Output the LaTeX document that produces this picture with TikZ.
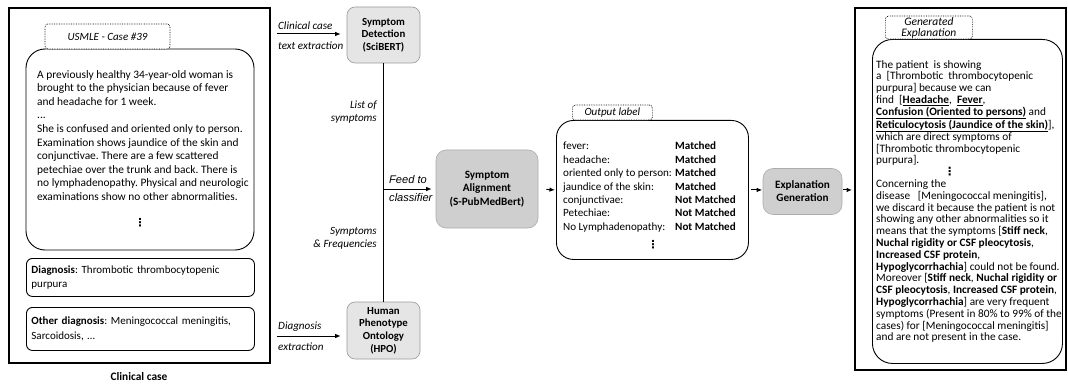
\documentclass[tikz,border=0pt]{standalone}
\usepackage{fontspec}
\setmainfont{Carlito}
\newfontfamily\arialf{Liberation Sans}
\newfontfamily\dejavu{DejaVu Sans}
\usetikzlibrary{arrows.meta}
\newcommand{\vdt}{{\dejavu\bfseries ⋮}}
\begin{document}
\frenchspacing
\begin{tikzpicture}[x=1pt,y=-1pt,
  outer/.style={draw=black,line width=1.8pt,inner sep=0pt},
  rbox/.style={draw=black,line width=0.9pt,rounded corners=#1,inner sep=0pt},
  lab/.style={draw=black,densely dotted,line width=0.7pt,rounded corners=3pt,fill=white,inner sep=0pt,font=\fontsize{11}{12}\selectfont\itshape,align=center},
  proc/.style={draw=gray!80,line width=0.6pt,fill=gray!20,rounded corners=8pt,align=center,inner sep=0pt,font=\fontsize{10.8}{12.6}\selectfont\bfseries},
  proc2/.style={proc,fill=gray!38,draw=gray!65,rounded corners=10pt,font=\fontsize{11.2}{13.4}\selectfont\bfseries},
  arr/.style={-{Latex[length=5.5pt,width=4.5pt]},line width=1pt},
  elab/.style={font=\fontsize{11.1}{12}\selectfont\itshape,inner sep=0pt},
  alab/.style={font=\fontsize{11.1}{12}\selectfont\arialf\itshape,inner sep=0pt},
  body/.style={inner sep=0pt,align=left,anchor=north west}
]
\useasboundingbox (0,0) rectangle (1068,385);

% ---------- left panel ----------
\node[outer,minimum width=261pt,minimum height=355pt] (case) at (139.5,185.5) {};
\node[rbox=19pt,minimum width=228pt,minimum height=201pt] (story) at (140,149.5) {};
\node[lab,minimum width=125pt,minimum height=25pt] (usmle) at (107.5,36.5) {USMLE - Case \#39};
\node[body,font=\fontsize{11.4}{13.6}\selectfont] (storytext) at (37,70) {A previously healthy 34-year-old woman is\\
brought to the physician because of fever\\
and headache for 1 week.\\
...\\
She is confused and oriented only to person.\\
Examination shows jaundice of the skin and\\
conjunctivae. There are a few scattered\\
petechiae over the trunk and back. There is\\
no lymphadenopathy. Physical and neurologic\\
examinations show no other abnormalities.};
\node[font=\fontsize{11}{12}\selectfont] (dots1) at (140,223) {\vdt};
\node[rbox=6pt,minimum width=228pt,minimum height=38pt,anchor=north west,text width=218pt,align=left,font=\fontsize{11}{14}\selectfont] (diag) at (26,258) {\textbf{Diagnosis}: Thrombotic thrombocytopenic\\purpura};
\node[rbox=6pt,minimum width=228pt,minimum height=43pt,anchor=north west,text width=218pt,align=left,font=\fontsize{11}{14.5}\selectfont] (odiag) at (26,307) {\textbf{Other diagnosis}: Meningococcal meningitis,\\Sarcoidosis, …};
\node[font=\fontsize{11.4}{13}\selectfont\bfseries] (cclabel) at (139,377) {Clinical case};

% ---------- middle ----------
\node[proc,minimum width=73pt,minimum height=56pt] (sd) at (383.5,35) {Symptom\\Detection\\(SciBERT)};
\node[proc,minimum width=73pt,minimum height=57pt] (hpo) at (383.5,330.5) {Human\\Phenotype\\Ontology\\(HPO)};
\node[proc2,minimum width=102pt,minimum height=78pt] (sa) at (487,189) {Symptom\\Alignment\\(S-PubMedBert)};

\coordinate (c1) at (277,34);
\coordinate (c2) at (277,336);
\draw[arr,shorten >=6pt] (c1) -- (c1 -| sd.west);
\draw[arr,shorten >=6pt] (c2) -- (c2 -| hpo.west);
\node[elab,anchor=west] (l1) at (278,26) {Clinical case};
\node[elab,anchor=west] (l2) at (278,46) {text extraction};
\node[elab,anchor=west] (l3) at (278,327) {Diagnosis};
\node[elab,anchor=west] (l4) at (278,347) {extraction};

\draw[line width=1pt] (sd.south) -- (hpo.north);
\coordinate (feed) at (383.5,189);
\draw[arr,shorten >=4pt] (feed) -- (sa.west);
\node[alab,anchor=west] (l5) at (389,180) {Feed to};
\node[alab,anchor=west] (l6) at (389,198) {classifier};
\node[elab,anchor=north east,align=right,font=\fontsize{11.1}{13}\selectfont\itshape] (l7) at (377,101) {List of\\symptoms};
\node[elab,anchor=north east,align=right,font=\fontsize{11.1}{13.5}\selectfont\itshape] (l8) at (377,227) {Symptoms\\\& Frequencies};

% ---------- output label ----------
\node[rbox=17pt,minimum width=192pt,minimum height=139pt,anchor=north west] (out) at (556,120) {};
\node[lab,minimum width=80pt,minimum height=15pt,anchor=south west] (outlab) at (572,120.4) {Output label};
\node[body,font=\fontsize{11.1}{13.4}\selectfont] (olist) at (563,142) {fever:\\headache:\\oriented only to person:\\jaundice of the skin:\\conjunctivae:\\Petechiae:\\No Lymphadenopathy:};
\node[body,font=\fontsize{11.1}{13.4}\selectfont\bfseries] (ovals) at (675,142) {Matched\\Matched\\Matched\\Matched\\Not Matched\\Not Matched\\Not Matched};
\node[font=\fontsize{11}{12}\selectfont] (dots2) at (653,245) {\vdt};

\draw[arr,shorten <=8pt,shorten >=1pt] (sa.east) -- (out.west);

% ---------- explanation ----------
\node[proc2,minimum width=79pt,minimum height=46pt,font=\fontsize{11.2}{13}\selectfont\bfseries] (eg) at (802.5,191.5) {Explanation\\Generation};
\draw[arr,shorten <=2pt,shorten >=0.5pt] (out.east) -- (out.east -| eg.west);

\node[outer,minimum width=211pt,minimum height=362pt] (expl) at (960.5,189) {};
\draw[arr,shorten <=1pt,shorten >=2pt] (eg.east |- out.east) -- (out.east -| expl.west);
\node[rbox=20pt,minimum width=190pt,minimum height=324pt,anchor=north west] (exbox) at (872,39) {};
\node[lab,minimum width=87pt,minimum height=23pt,anchor=south west,font=\fontsize{11.5}{11}\selectfont\itshape] (genlab) at (885,39.4) {Generated\\Explanation};
\node[body,font=\fontsize{11.3}{11.8}\selectfont] (extext) at (876,60) {The patient\ \ is showing\\
a\ \ {[}Thrombotic\ \ thrombocytopenic\\
purpura] because we can\\
find\ \ {[}\underline{\textbf{Headache}},\ \ \underline{\textbf{Fever}},\\
\underline{\textbf{Confusion (Oriented to persons)}} and\\
\underline{\textbf{Reticulocytosis (Jaundice of the skin)}}],\\
which are direct symptoms of\\
{[}Thrombotic thrombocytopenic\\
purpura].\\
\hspace*{68pt}\vdt\\
Concerning the\\
disease\ \ \ {[}Meningococcal meningitis],\\
we discard it because the patient is not\\
showing any other abnormalities so it\\
means that the symptoms {[}\textbf{Stiff neck},\\
\textbf{Nuchal rigidity or CSF pleocytosis},\\
\textbf{Increased CSF protein},\\
\textbf{Hypoglycorrhachia}] could not be found.\\
Moreover {[}\textbf{Stiff neck}, \textbf{Nuchal rigidity or}\\
\textbf{CSF pleocytosis}, \textbf{Increased CSF protein},\\
\textbf{Hypoglycorrhachia}] are very frequent\\
symptoms (Present in 80\% to 99\% of the\\
cases) for {[}Meningococcal meningitis]\\
and are not present in the case.};
\end{tikzpicture}
\end{document}
